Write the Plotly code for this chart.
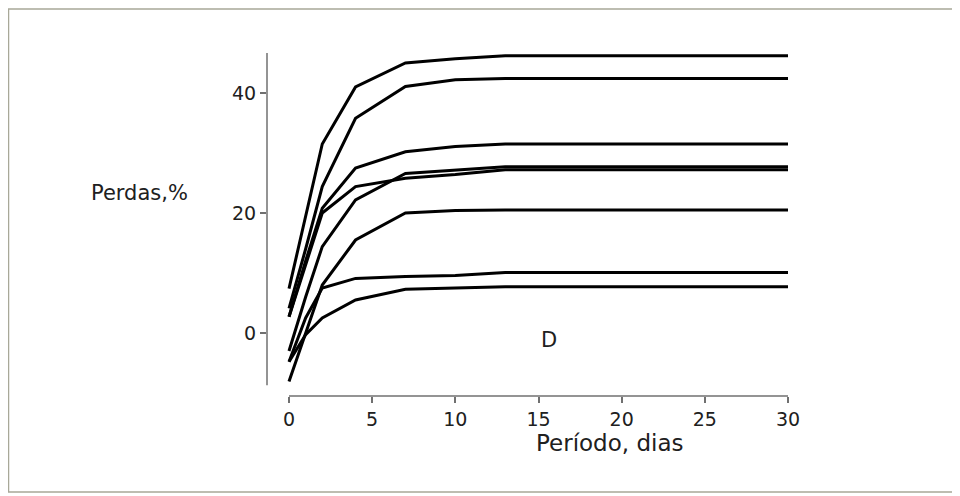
import plotly.graph_objects as go

days = [0, 1, 2, 4, 7, 10, 13, 30]
curve_a = [7.4, 19.5, 31.5, 41.0, 45.0, 45.7, 46.2, 46.2]
curve_b = [4.1, 14.0, 24.4, 35.8, 41.1, 42.2, 42.4, 42.4]
curve_c = [2.7, 12.0, 20.8, 27.5, 30.2, 31.1, 31.5, 31.5]
curve_d = [2.7, 11.5, 20.0, 24.4, 25.8, 26.4, 27.2, 27.2]
curve_e = [-3.0, 6.0, 14.4, 22.2, 26.6, 27.1, 27.7, 27.7]
curve_f = [-8.1, 0.0, 8.0, 15.5, 20.0, 20.4, 20.5, 20.5]
curve_g = [-4.8, 2.5, 7.5, 9.1, 9.4, 9.6, 10.1, 10.1]
curve_h = [-4.8, -0.3, 2.5, 5.5, 7.3, 7.5, 7.7, 7.7]
curves = [curve_a, curve_b, curve_c, curve_d, curve_e, curve_f, curve_g, curve_h]

x_ticks = [0, 5, 10, 15, 20, 25, 30]
y_ticks = [0, 20, 40]

# the page body adds an 8px offset; the figure is sized to fit the window
OFF = 8
W, H = 960 - OFF, 496 - OFF
L, R, T, B = 267 - OFF, 788 - OFF, 53 - OFF, 396 - OFF  # plot area in figure pixels

def px(x):
    return (x - OFF - L) / (R - L)

def py(y):
    return (B - (y - OFF)) / (B - T)

fig = go.Figure()
for c in curves:
    fig.add_trace(go.Scatter(x=days, y=c, mode="lines",
                             line=dict(color="black", width=3),
                             showlegend=False, hoverinfo="skip", cliponaxis=False))

font = "DejaVu Sans, Verdana, sans-serif"

shapes = [
    # x axis line
    dict(type="line", xref="x", yref="paper", x0=0, x1=30, y0=0, y1=0,
         line=dict(color="#707070", width=1.5)),
    # y axis line
    dict(type="line", xref="paper", yref="y", x0=0, x1=0, y0=-8.7, y1=46.67,
         line=dict(color="#707070", width=1.5)),
    # page frame
    dict(type="rect", xref="paper", yref="paper", x0=px(8.5), x1=px(955), y0=py(9), y1=py(492),
         line=dict(color="#a8a898", width=1.5)),
]

annotations = [
    dict(text="Perdas,%", xref="paper", yref="paper", x=px(139), y=py(193),
         xanchor="center", yanchor="middle",
         showarrow=False, font=dict(size=21, color="#202020", family=font)),
    dict(text="Período, dias", xref="paper", yref="paper", x=px(609), y=py(443),
         xanchor="center", yanchor="middle",
         showarrow=False, font=dict(size=23, color="#202020", family=font)),
    dict(text="D", xref="paper", yref="paper", x=px(549), y=py(340),
         xanchor="center", yanchor="middle",
         showarrow=False, font=dict(size=21, color="#202020", family=font)),
]

fig.update_layout(
    width=W, height=H,
    margin=dict(l=L, r=W - R, t=T, b=H - B, pad=0),
    paper_bgcolor="white", plot_bgcolor="white",
    shapes=shapes, annotations=annotations,
    xaxis=dict(range=[-(289 - 267) / (499 / 30), 30], tickvals=x_ticks,
               showgrid=False, zeroline=False, showline=False,
               ticks="outside", ticklen=6, tickcolor="#707070", tickwidth=1.5,
               tickfont=dict(size=19, color="#202020", family=font)),
    yaxis=dict(range=[-10.5, 46.67], tickvals=y_ticks,
               showgrid=False, zeroline=False, showline=False,
               ticks="outside", ticklen=6, tickcolor="#707070", tickwidth=1.5,
               tickfont=dict(size=19, color="#202020", family=font)),
)

fig.write_html("out.html")
